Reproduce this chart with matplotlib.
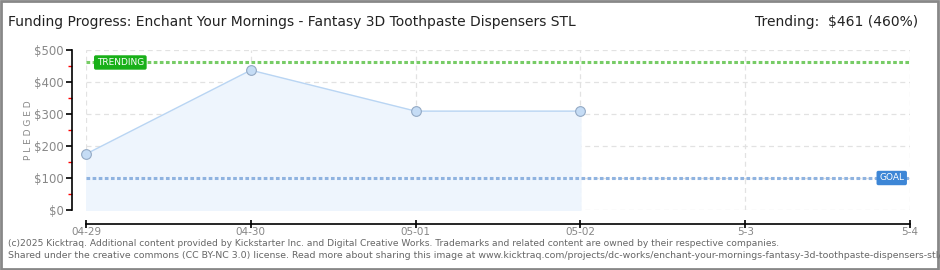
import matplotlib
matplotlib.use("Agg")
import matplotlib.pyplot as plt
from matplotlib.patches import Rectangle

plt.rcParams.update({
    "font.family": "DejaVu Sans",
})

# ── Data ──────────────────────────────────────────────────────────────────────
day_labels = ["04-29", "04-30", "05-01", "05-02", "5-3", "5-4"]
pledged    = [175, 437, 309, 309]
trending   = 461
goal       = 100
y_ticks    = [0, 100, 200, 300, 400, 500]

TITLE = "Funding Progress: Enchant Your Mornings - Fantasy 3D Toothpaste Dispensers STL"
FOOT1 = ("(c)2025 Kicktraq. Additional content provided by Kickstarter Inc. and Digital "
         "Creative Works. Trademarks and related content are owned by their respective companies.")
FOOT2 = ("Shared under the creative commons (CC BY-NC 3.0) license. Read more about sharing "
         "this image at www.kicktraq.com/projects/dc-works/enchant-your-mornings-fantasy-3d-toothpaste-dispensers-stl/")

GRAY   = "#888888"
LINE_C = "#B9D5F3"
FILL_C = "#EEF5FD"
TREND_C = "#77CC66"
GOAL_C  = "#8FB3E0"

fig = plt.figure(figsize=(9.4, 2.7), dpi=100)
W, H = 940, 270
ax = fig.add_axes([86 / W, 1 - 210 / H, (910 - 86) / W, 160 / H])

x = list(range(len(pledged)))
ax.fill_between(x, pledged, 0, color=FILL_C, zorder=1)
ax.plot(x, pledged, color=LINE_C, lw=1.0, zorder=3)
ax.plot(x, pledged, "o", ms=7, markerfacecolor="#C5DCF5",
        markeredgecolor="#93A9C4", markeredgewidth=0.8, zorder=4, clip_on=False)

ax.axhline(trending, color=TREND_C, lw=2.2, ls=(0, (1.2, 0.8)), zorder=2)
ax.axhline(goal, color=GOAL_C, lw=2.2, ls=(0, (1.2, 0.8)), zorder=2)

ax.text(0.065, trending, "TRENDING", color="white", fontsize=6.5, va="center",
        ha="left", zorder=5,
        bbox=dict(boxstyle="round,pad=0.3,rounding_size=0.2",
                  facecolor="#19B019", edgecolor="none"))
ax.text(4.965, goal, "GOAL", color="white", fontsize=6.5, va="center",
        ha="right", zorder=5,
        bbox=dict(boxstyle="round,pad=0.3,rounding_size=0.2",
                  facecolor="#3D86D6", edgecolor="none"))

ax.set_xlim(0, len(day_labels) - 1)
ax.set_ylim(0, 500)
ax.set_xticks(range(len(day_labels)))
ax.set_xticklabels(day_labels)
ax.set_yticks(y_ticks)
ax.set_yticklabels([f"${v}" for v in y_ticks])
ax.set_yticks([v + 50 for v in y_ticks[:-1]], minor=True)

ax.grid(True, color="#E2E2E2", ls=(0, (4, 3)), lw=0.9, zorder=0)
ax.set_axisbelow(True)

for s in ["top", "right"]:
    ax.spines[s].set_visible(False)
ax.spines["left"].set_position(("outward", 10))
ax.spines["bottom"].set_position(("outward", 10))
ax.spines["left"].set_linewidth(1.2)
ax.spines["bottom"].set_linewidth(1.2)

ax.tick_params(axis="y", which="major", length=4, width=1.2, colors="black",
               labelcolor=GRAY, labelsize=8.5, pad=2)
ax.tick_params(axis="y", which="minor", length=3, width=1, colors="red")
ax.tick_params(axis="x", which="major", length=6, width=1.2, direction="inout",
               colors="black", labelcolor=GRAY, labelsize=7.5, pad=-1)

ax.set_ylabel("P L E D G E D", color=GRAY, fontsize=6.5)
ax.yaxis.set_label_coords(-0.064, 0.5)

fig.text(8 / W, 1 - 22 / H, TITLE, fontsize=10, color="#222222", va="center", ha="left")
fig.text(918 / W, 1 - 22 / H, "Trending:  $461 (460%)", fontsize=10,
         color="#222222", va="center", ha="right")
fig.text(8 / W, 1 - 243 / H, FOOT1, fontsize=6.6, color="#666666", va="center")
fig.text(8 / W, 1 - 256 / H, FOOT2, fontsize=6.75, color="#666666", va="center")

fig.patches.append(Rectangle((0.001, 0.002), 0.997, 0.996, transform=fig.transFigure,
                             fill=False, edgecolor="#888888", lw=2))

fig.savefig("out.png", dpi=100)
